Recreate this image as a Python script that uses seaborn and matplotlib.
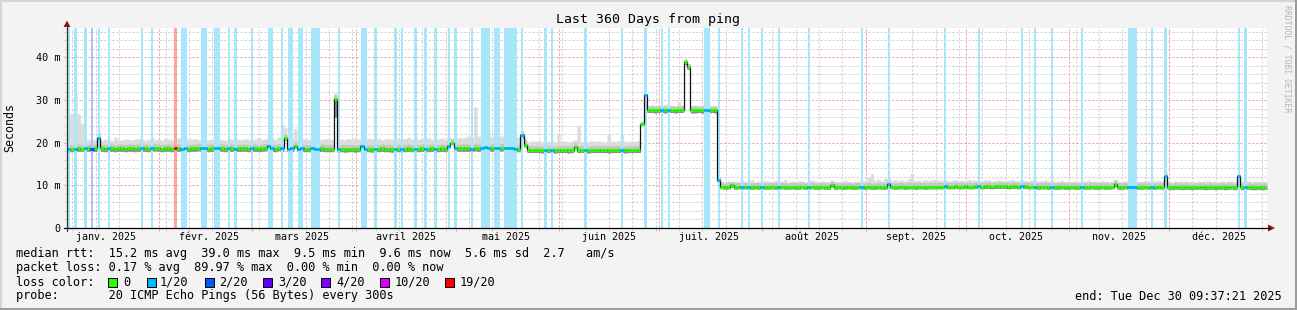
import numpy as np
import pandas as pd
import matplotlib
matplotlib.use("Agg")
import matplotlib.pyplot as plt
import seaborn as sns
from matplotlib.patches import Rectangle, Polygon
from matplotlib.lines import Line2D

# ---------------- data (one value per day, 360 days ending Dec 30 2025 09:37:21) -------------
START = pd.Timestamp("2025-01-04 09:37:21")

median_ms = [
    18.6, 18.5, 18.6, 18.7, 18.6, 18.7, 18.7, 18.6, 18.7, 21.0, 18.7, 18.6, 18.7, 18.7, 18.6, 18.7, 18.7, 18.6, 18.7, 18.7,
    18.6, 18.7, 18.7, 18.7, 18.6, 18.7, 18.8, 18.7, 18.6, 18.7, 18.7, 18.6, 18.7, 18.7, 18.6, 18.7, 18.6, 18.7, 18.7, 18.8,
    18.7, 18.7, 18.6, 18.7, 18.7, 18.8, 18.7, 18.6, 18.7, 18.7, 18.6, 18.7, 18.7, 18.7, 18.6, 18.7, 18.7, 18.6, 18.7, 18.8,
    19.3, 18.7, 18.6, 18.8, 18.7, 21.1, 18.6, 18.7, 19.2, 18.6, 18.7, 18.6, 18.6, 18.7, 18.6, 18.6, 18.7, 18.6, 18.6, 18.6,
    30.2, 18.5, 18.6, 18.5, 18.6, 18.6, 18.5, 18.6, 19.2, 18.6, 18.6, 18.5, 18.6, 18.6, 18.7, 18.6, 18.6, 18.5, 18.6, 18.6,
    18.6, 18.6, 18.7, 18.6, 18.6, 18.6, 18.7, 18.6, 18.6, 18.7, 18.6, 18.6, 18.7, 18.6, 19.3, 20.0, 18.8, 18.7, 18.7, 18.7,
    18.7, 18.6, 18.8, 18.7, 18.8, 18.9, 18.8, 18.7, 18.8, 18.7, 18.8, 18.7, 18.8, 18.7, 18.6, 18.6, 21.8, 19.5, 18.3, 18.3,
    18.3, 18.3, 18.2, 18.3, 18.3, 18.3, 18.2, 18.3, 18.3, 18.3, 18.2, 18.3, 19.1, 18.3, 18.3, 18.3, 18.2, 18.3, 18.3, 18.3,
    18.3, 18.3, 18.2, 18.3, 18.3, 18.3, 18.3, 18.2, 18.3, 18.3, 18.3, 18.3, 24.5, 31.2, 27.7, 27.7, 27.6, 27.7, 27.7, 27.6,
    27.7, 27.7, 27.6, 27.7, 27.7, 39.0, 37.8, 27.6, 27.6, 27.7, 27.6, 27.6, 27.6, 27.7, 27.6, 11.3, 9.7, 9.6, 9.7, 10.1,
    9.6, 9.7, 9.6, 9.7, 9.6, 9.6, 9.7, 9.6, 9.7, 9.6, 9.6, 9.7, 9.6, 9.6, 9.7, 9.6, 9.6, 9.7, 9.6, 9.6,
    9.7, 9.6, 9.6, 9.7, 9.6, 9.6, 9.7, 9.6, 9.6, 10.1, 9.6, 9.7, 9.6, 9.6, 9.7, 9.6, 9.6, 9.7, 9.6, 9.6,
    9.7, 9.6, 9.6, 9.7, 9.6, 9.6, 10.4, 9.7, 9.6, 9.7, 9.7, 9.6, 9.7, 9.7, 9.6, 9.7, 9.7, 9.6, 9.7, 9.7,
    9.7, 9.7, 9.7, 9.8, 9.7, 9.7, 9.8, 9.7, 9.7, 9.8, 9.7, 9.7, 9.8, 9.8, 9.7, 9.8, 9.8, 9.7, 9.8, 9.8,
    9.8, 9.8, 9.7, 9.8, 9.8, 9.7, 9.8, 9.8, 9.7, 9.7, 9.7, 9.6, 9.7, 9.7, 9.6, 9.7, 9.6, 9.6, 9.7, 9.6,
    9.6, 9.7, 9.6, 9.6, 9.7, 9.6, 9.6, 9.7, 9.6, 9.6, 9.7, 9.6, 9.6, 9.7, 10.3, 9.6, 9.6, 9.7, 9.6, 9.6,
    9.6, 9.6, 9.6, 9.7, 9.6, 9.6, 9.6, 9.7, 9.6, 12.1, 9.6, 9.5, 9.6, 9.6, 9.5, 9.6, 9.6, 9.5, 9.6, 9.6,
    9.6, 9.5, 9.6, 9.6, 9.5, 9.6, 9.6, 9.5, 9.6, 9.6, 9.5, 12.1, 9.5, 9.5, 9.6, 9.5, 9.5, 9.6, 9.5, 9.6,
]

smoke_max_ms = [
    26.5, 27.0, 32.0, 26.8, 24.6, 21.0, 20.8, 21.0, 20.6, 22.8, 20.6, 20.8, 20.9, 20.5, 21.3, 20.7, 20.6, 20.9, 20.8, 20.7,
    20.9, 21.0, 20.8, 20.6, 20.9, 21.2, 20.7, 20.8, 20.6, 21.0, 20.9, 20.7, 20.8, 21.2, 20.8, 20.6, 20.9, 20.8, 21.0, 20.7,
    20.8, 20.9, 20.7, 20.8, 21.1, 20.9, 20.8, 20.6, 21.0, 20.9, 21.2, 20.8, 20.7, 20.9, 20.8, 20.7, 20.9, 21.3, 20.8, 20.9,
    22.0, 21.1, 20.8, 21.3, 24.3, 23.5, 21.0, 20.9, 23.3, 20.8, 21.0, 20.9, 20.8, 21.1, 20.9, 20.7, 20.8, 21.0, 20.9, 20.8,
    31.6, 20.8, 20.9, 20.7, 21.0, 20.8, 21.2, 20.9, 22.6, 20.8, 21.0, 20.9, 20.8, 21.1, 20.7, 20.9, 21.0, 20.8, 21.3, 20.9,
    20.8, 21.0, 21.3, 20.9, 21.4, 20.8, 21.0, 20.9, 21.2, 20.8, 21.0, 20.9, 21.1, 20.8, 21.3, 21.0, 20.9, 21.2, 21.1, 21.3,
    21.6, 21.2, 28.4, 21.5, 21.3, 22.6, 22.4, 21.5, 23.9, 21.4, 21.6, 23.0, 21.5, 21.3, 21.4, 21.2, 22.7, 21.0, 20.2, 20.4,
    20.3, 20.5, 20.2, 20.4, 20.3, 20.6, 20.2, 22.0, 20.4, 20.3, 20.2, 20.4, 20.6, 23.9, 20.3, 20.4, 20.2, 20.5, 20.3, 20.4,
    20.3, 20.2, 22.0, 20.4, 20.3, 20.5, 22.0, 20.3, 20.2, 20.4, 20.3, 20.5, 25.0, 31.6, 28.6, 28.9, 28.7, 28.8, 28.6, 29.0,
    28.8, 28.7, 28.6, 29.6, 28.8, 39.6, 38.5, 28.7, 28.9, 28.6, 28.8, 28.7, 28.9, 28.6, 28.7, 12.0, 11.0, 10.8, 11.1, 10.9,
    11.0, 10.8, 11.2, 11.0, 10.9, 11.3, 10.8, 11.0, 10.9, 11.1, 11.0, 10.8, 11.2, 10.9, 11.0, 11.4, 10.8, 11.0, 10.9, 11.1,
    11.0, 10.8, 10.9, 11.2, 11.0, 10.8, 11.0, 10.9, 10.8, 11.1, 10.9, 10.8, 11.0, 11.2, 10.9, 10.8, 11.0, 10.9, 11.1, 11.0,
    11.8, 12.7, 11.2, 11.4, 11.0, 11.6, 11.8, 11.0, 11.3, 11.1, 11.2, 11.0, 11.5, 12.8, 11.1, 11.2, 11.0, 11.3, 11.1, 11.2,
    11.4, 11.2, 11.1, 11.3, 11.0, 11.2, 11.3, 11.1, 11.2, 11.0, 11.3, 11.1, 11.2, 11.0, 11.1, 11.3, 11.2, 11.0, 11.1, 11.2,
    11.1, 11.0, 11.2, 11.3, 11.1, 11.0, 11.2, 11.1, 11.0, 11.3, 11.2, 11.0, 11.1, 11.2, 11.0, 11.1, 10.9, 11.0, 11.1, 10.9,
    11.0, 10.9, 11.1, 11.0, 10.9, 11.0, 11.2, 10.9, 11.0, 10.9, 11.1, 11.0, 10.9, 11.0, 11.4, 11.0, 10.9, 11.1, 11.0, 10.9,
    11.0, 10.9, 11.0, 11.1, 11.0, 10.9, 11.0, 11.2, 11.0, 13.2, 11.0, 10.8, 11.0, 10.9, 11.0, 11.1, 10.9, 11.0, 10.8, 11.0,
    10.9, 11.0, 11.1, 10.9, 11.0, 10.8, 11.0, 10.9, 11.1, 11.0, 10.9, 12.6, 11.0, 10.9, 11.0, 10.8, 11.0, 10.9, 11.0, 10.9,
]

smoke_min_ms = [
    17.9, 17.9, 18.0, 18.0, 18.0, 18.0, 18.0, 17.9, 18.0, 20.5, 18.0, 17.9, 18.0, 18.0, 17.9, 18.0, 18.0, 17.9, 18.0, 18.0,
    17.9, 18.0, 18.0, 18.0, 17.9, 18.0, 18.1, 18.0, 17.9, 18.0, 18.0, 17.9, 18.0, 18.0, 17.9, 18.0, 17.9, 18.0, 18.0, 18.1,
    18.0, 18.0, 17.9, 18.0, 18.0, 18.1, 18.0, 17.9, 18.0, 18.0, 17.9, 18.0, 18.0, 18.0, 17.9, 18.0, 18.0, 17.9, 18.0, 18.1,
    18.8, 18.0, 17.9, 18.1, 18.0, 20.6, 17.9, 18.0, 18.8, 17.9, 18.0, 17.9, 17.9, 18.0, 17.9, 17.9, 18.0, 17.9, 17.9, 17.9,
    26.0, 17.8, 17.9, 17.8, 17.9, 17.9, 17.8, 17.9, 18.8, 17.9, 17.9, 17.8, 17.9, 17.9, 18.0, 17.9, 17.9, 17.8, 17.9, 17.9,
    17.9, 17.9, 18.0, 17.9, 17.9, 17.9, 18.0, 17.9, 17.9, 18.0, 17.9, 17.9, 18.0, 17.9, 18.8, 19.6, 18.1, 18.0, 18.0, 18.0,
    18.0, 17.9, 18.1, 18.0, 18.1, 18.2, 18.1, 18.0, 18.1, 18.0, 18.1, 18.0, 18.1, 18.0, 17.9, 17.9, 21.0, 19.0, 17.7, 17.7,
    17.7, 17.7, 17.6, 17.7, 17.7, 17.7, 17.6, 17.7, 17.7, 17.7, 17.6, 17.7, 18.7, 17.7, 17.7, 17.7, 17.6, 17.7, 17.7, 17.7,
    17.7, 17.7, 17.6, 17.7, 17.7, 17.7, 17.7, 17.6, 17.7, 17.7, 17.7, 17.7, 24.0, 30.5, 27.1, 27.1, 27.0, 27.1, 27.1, 27.0,
    27.1, 27.1, 27.0, 27.1, 27.1, 38.4, 37.2, 27.0, 27.0, 27.1, 27.0, 27.0, 27.0, 27.1, 27.0, 10.8, 9.2, 9.1, 9.2, 9.6,
    9.1, 9.2, 9.1, 9.2, 9.1, 9.1, 9.2, 9.1, 9.2, 9.1, 9.1, 9.2, 9.1, 9.1, 9.2, 9.1, 9.1, 9.2, 9.1, 9.1,
    9.2, 9.1, 9.1, 9.2, 9.1, 9.1, 9.2, 9.1, 9.1, 9.6, 9.1, 9.2, 9.1, 9.1, 9.2, 9.1, 9.1, 9.2, 9.1, 9.1,
    9.2, 9.1, 9.1, 9.2, 9.1, 9.1, 9.9, 9.2, 9.1, 9.2, 9.2, 9.1, 9.2, 9.2, 9.1, 9.2, 9.2, 9.1, 9.2, 9.2,
    9.2, 9.2, 9.2, 9.3, 9.2, 9.2, 9.3, 9.2, 9.2, 9.3, 9.2, 9.2, 9.3, 9.3, 9.2, 9.3, 9.3, 9.2, 9.3, 9.3,
    9.3, 9.3, 9.2, 9.3, 9.3, 9.2, 9.3, 9.3, 9.2, 9.2, 9.2, 9.1, 9.2, 9.2, 9.1, 9.2, 9.1, 9.1, 9.2, 9.1,
    9.1, 9.2, 9.1, 9.1, 9.2, 9.1, 9.1, 9.2, 9.1, 9.1, 9.2, 9.1, 9.1, 9.2, 9.8, 9.1, 9.1, 9.2, 9.1, 9.1,
    9.1, 9.1, 9.1, 9.2, 9.1, 9.1, 9.1, 9.2, 9.1, 11.6, 9.1, 9.0, 9.1, 9.1, 9.0, 9.1, 9.1, 9.0, 9.1, 9.1,
    9.1, 9.0, 9.1, 9.1, 9.0, 9.1, 9.1, 9.0, 9.1, 9.1, 9.0, 11.6, 9.0, 9.0, 9.1, 9.0, 9.0, 9.1, 9.0, 9.1,
]

# days with packet loss and the number of lost pings (out of 20)
loss_days = [0, 2, 5, 7, 9, 12, 22, 25, 32, 34, 35, 40, 41, 44, 45, 48, 50, 55, 60, 61, 64, 66, 67, 69,
             70, 73, 74, 75, 81, 88, 89, 92, 98, 100, 104, 107, 110, 114, 116, 121, 124, 125, 126, 128,
             129, 131, 132, 133, 134, 136, 143, 145, 155, 166, 173, 178, 180, 191, 192, 195, 202, 204,
             208, 213, 222, 238, 246, 263, 273, 286, 290, 295, 304, 318, 319, 320, 325, 329, 351, 353]
loss_counts = [1, 1, 1, 2, 1, 1, 1, 1, 19, 1, 1, 1, 1, 1, 1, 1, 1, 1, 1, 1, 1, 1, 1, 1,
               1, 1, 1, 1, 1, 1, 1, 1, 1, 1, 1, 1, 1, 1, 1, 1, 1, 1, 1, 1,
               1, 1, 1, 1, 1, 1, 1, 1, 1, 1, 1, 1, 1, 1, 1, 1, 1, 1,
               1, 1, 1, 1, 1, 1, 1, 1, 1, 1, 1, 1, 1, 1, 1, 1, 1, 1]

month_labels = ["janv. 2025", "févr. 2025", "mars 2025", "avril 2025", "mai 2025", "juin 2025",
                "juil. 2025", "août 2025", "sept. 2025", "oct. 2025", "nov. 2025", "déc. 2025"]
y_ticks = [0, 10, 20, 30, 40]
y_tick_labels = ["0", "10 m", "20 m", "30 m", "40 m"]

legend_loss_labels = ["0", "1/20", "2/20", "3/20", "4/20", "10/20", "19/20"]
legend_loss_values = [0, 1, 2, 3, 4, 10, 19]
legend_loss_colors = ["#26ff00", "#00b8ff", "#0059ff", "#5e00ff", "#7e00ff", "#dd00ff", "#ff0000"]
band_colors_map = {1: "#a8e6fb", 2: "#a9c2fb", 19: "#ffa2a2"}

stats_rtt = "median rtt:  15.2 ms avg  39.0 ms max  9.5 ms min  9.6 ms now  5.6 ms sd  2.7   am/s"
stats_loss = "packet loss: 0.17 % avg  89.97 % max  0.00 % min  0.00 % now"
probe_text = "probe:       20 ICMP Echo Pings (56 Bytes) every 300s"
end_text = "end: Tue Dec 30 09:37:21 2025"

# ---------------- style ----------------
sns.set_theme(style="white")
plt.rcParams['font.family'] = ['DejaVu Sans Mono', 'DejaVu Sans']
plt.rcParams['text.color'] = 'black'
plt.rcParams['xtick.color'] = 'black'
plt.rcParams['ytick.color'] = 'black'

W, H = 1297, 310
BG = "#f3f3f3"
fig = plt.figure(figsize=(W / 100, H / 100), dpi=100, facecolor=BG)


def fx(px):
    return px / W


def fy(py):
    return 1 - py / H


L, R, T, B = 67, 1267, 28, 228
YMAX = 46.9
ax = fig.add_axes([fx(L), fy(B), (R - L) / W, (B - T) / H])
ax.set_facecolor("white")
ax.set_xlim(0, 360)
ax.set_ylim(0, YMAX)
for s in ax.spines.values():
    s.set_visible(False)


def day_of(ts):
    return (pd.Timestamp(ts) - START) / pd.Timedelta(days=1)


# grid
DOT = (0, (2, 2))
mondays = pd.date_range("2025-01-06", "2025-12-29", freq="7D")
month_starts = pd.date_range("2025-02-01", "2025-12-01", freq="MS")
ax.vlines([day_of(d) for d in mondays], -0.7, YMAX, colors="#cccccc", lw=0.72,
          linestyles=DOT, zorder=1, clip_on=False)
minor_y = [v for v in range(2, 47, 2) if v % 10 != 0]
ax.hlines(minor_y, -0.9, 360, colors="#cccccc", lw=0.72, linestyles=DOT, zorder=1, clip_on=False)
ax.vlines([day_of(d) for d in month_starts], -0.7, YMAX, colors="#f29a9a", lw=0.72,
          linestyles=DOT, zorder=1.1, clip_on=False)
ax.hlines([10, 20, 30, 40], -0.9, 360, colors="#f29a9a", lw=0.72, linestyles=DOT, zorder=1.1,
          clip_on=False)

# smoke
days = np.arange(len(median_ms))
edges = np.arange(len(median_ms) + 1)
med = np.array(median_ms + [median_ms[-1]])
hi = np.array(smoke_max_ms + [smoke_max_ms[-1]])
lo = np.array(smoke_min_ms + [smoke_min_ms[-1]])
ax.fill_between(edges, lo, hi, step="post", color="#dcdcdc", lw=0, zorder=3)
ax.fill_between(edges, lo, np.minimum(hi, med + 1.0), step="post", color="#c6c6c6", lw=0, zorder=3.1)
ax.fill_between(edges, lo, med, step="post", color="#8c8c8c", lw=0, zorder=3.2)

# loss bands (consecutive days with the same loss merged into one band)
runs = []
for d, c in zip(loss_days, loss_counts):
    if runs and runs[-1][1] == d and runs[-1][2] == c:
        runs[-1][1] = d + 1
    else:
        runs.append([d, d + 1, c])
GAP = 0.15
ax.bar([r[0] + GAP for r in runs], YMAX, width=[r[1] - r[0] - 2 * GAP for r in runs],
       align="edge", bottom=0, color=[band_colors_map[r[2]] for r in runs], linewidth=0, zorder=4)

# median: thin black step line + loss-coloured thick segments
df = pd.DataFrame({"day": edges, "median": med})
sns.lineplot(data=df, x="day", y="median", drawstyle="steps-post", color="#111111",
             lw=0.9, ax=ax, zorder=5)
loss_lookup = dict(zip(loss_days, loss_counts))
seg_colors = []
for d in days:
    c = loss_lookup.get(int(d), 0)
    seg_colors.append(legend_loss_colors[legend_loss_values.index(c)])
ax.hlines(median_ms, days, days + 1, colors=seg_colors, lw=2.2, zorder=6)

ax.set_xlabel("")
ax.set_ylabel("")

# ticks
label_pos = [day_of(pd.Timestamp(f"2025-{m:02d}-01") + pd.Timedelta(days=15)) for m in range(1, 13)]
ax.set_xticks(label_pos)
ax.set_xticklabels(month_labels, fontsize=7.2)
ax.set_yticks(y_ticks)
ax.set_yticklabels(y_tick_labels, fontsize=7.3)
ax.tick_params(axis="x", length=0, pad=3.2)
ax.tick_params(axis="y", length=0, pad=5.0)

# axes lines and arrows
fig.add_artist(Line2D([fx(64), fx(1270)], [fy(228), fy(228)], color="black", lw=0.9))
fig.add_artist(Line2D([fx(67), fx(67)], [fy(231), fy(25)], color="#333333", lw=0.9))
fig.add_artist(Polygon([[fx(1275), fy(228)], [fx(1268), fy(224.5)], [fx(1268), fy(231.5)]],
                       closed=True, transform=fig.transFigure, color="#8e1b1b", lw=0))
fig.add_artist(Polygon([[fx(67), fy(20.5)], [fx(63.5), fy(27)], [fx(70.5), fy(27)]],
                       closed=True, transform=fig.transFigure, color="#8e1b1b", lw=0))

# frame borders
fig.add_artist(Rectangle((0, fy(2)), 1, 2 / H, transform=fig.transFigure, color="#d4d4d4", lw=0))
fig.add_artist(Rectangle((0, 0), 2 / W, 1, transform=fig.transFigure, color="#d4d4d4", lw=0))
fig.add_artist(Rectangle((0, 0), 1, 2 / H, transform=fig.transFigure, color="#9c9c9c", lw=0))
fig.add_artist(Rectangle((fx(1295), 0), 2 / W, 1, transform=fig.transFigure, color="#9c9c9c", lw=0))

# texts
fig.text(fx(648.5), fy(19), "Last 360 Days from ping", ha="center", va="center", fontsize=9.5)
fig.text(fx(10), fy(127), "Seconds", ha="center", va="center", rotation=90, fontsize=8.4)
fig.text(fx(1287), fy(59), "RRDTOOL / TOBI OETIKER", ha="center", va="center", rotation=-90,
         fontsize=5.9, color="#b4b4b4")

LEG = 8.55
fig.text(fx(16), fy(254), stats_rtt, ha="left", va="center", fontsize=LEG)
fig.text(fx(16), fy(268), stats_loss, ha="left", va="center", fontsize=LEG)
fig.text(fx(16), fy(282), "loss color:", ha="left", va="center", fontsize=LEG)
sq_x = [108, 147, 205, 263, 321, 380, 445]
lab_x = [123, 160, 219.5, 278, 336.5, 394.5, 459.5]
for sx, lx, col, lab in zip(sq_x, lab_x, legend_loss_colors, legend_loss_labels):
    fig.add_artist(Rectangle((fx(sx), fy(286.5)), 9 / W, 9 / H, transform=fig.transFigure,
                             facecolor=col, edgecolor="black", lw=0.7))
    fig.text(fx(lx), fy(282), lab, ha="left", va="center", fontsize=LEG)
fig.text(fx(16), fy(296), probe_text, ha="left", va="center", fontsize=LEG)
fig.text(fx(1282), fy(296), end_text, ha="right", va="center", fontsize=LEG)

fig.savefig("out.png", dpi=100, facecolor=BG)
